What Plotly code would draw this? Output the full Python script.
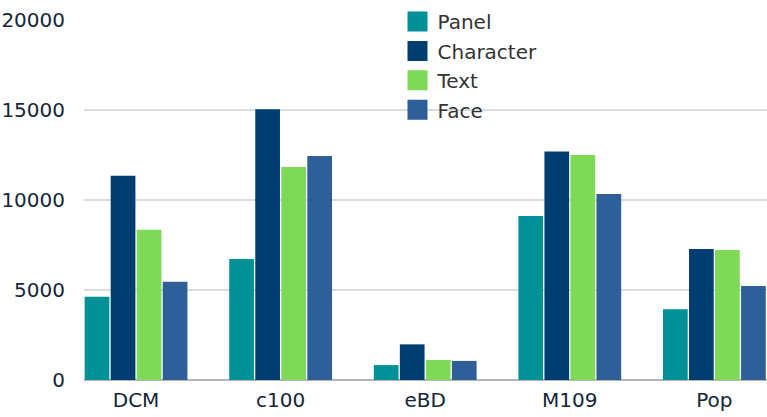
import plotly.graph_objects as go

categories = ["DCM", "c100", "eBD", "M109", "Pop"]
series_names = ["Panel", "Character", "Text", "Face"]
panel = [4630, 6720, 830, 9110, 3930]
character = [11350, 15040, 1980, 12690, 7280]
text = [8350, 11830, 1110, 12500, 7220]
face = [5460, 12440, 1060, 10330, 5220]
y_ticks = [0, 5000, 10000, 15000, 20000]

colors = ["#009196", "#003e72", "#7ed957", "#2e5f99"]
values = [panel, character, text, face]

FONT = "DejaVu Sans"
SIZE = 20
fig = go.Figure()
for name, vals, col in zip(series_names, values, colors):
    fig.add_trace(go.Bar(x=categories, y=vals, name=name, marker=dict(color=col, line=dict(width=0)),
                         showlegend=False))
for i, (name, col) in enumerate(zip(series_names, colors)):
    fig.add_trace(go.Scatter(x=[None], y=[None], mode="markers", name=name, legendgroup=str(i),
                             marker=dict(symbol="square", size=16, color=col, line=dict(color=col, width=4))))

fig.update_layout(
    width=767, height=417,
    margin=dict(l=84, r=0, t=20, b=37),
    paper_bgcolor="white", plot_bgcolor="white",
    barmode="group", bargap=0.28, bargroupgap=0.05,
    font=dict(family=FONT, size=SIZE, color="#14263a"),
    legend=dict(x=0.459, xanchor="left", y=1.05, yanchor="top", tracegroupgap=0.4,
                font=dict(family=FONT, size=SIZE, color="#333333"), bgcolor="rgba(0,0,0,0)"),
    xaxis=dict(range=[-0.36, 4.364], showgrid=False, showline=False, zeroline=False,
               ticks="", ticklabelstandoff=6, tickfont=dict(size=SIZE, color="#14263a")),
    yaxis=dict(range=[0, 20000], tickvals=y_ticks, ticktext=[str(v) for v in y_ticks],
               showgrid=True, gridcolor="#d8dde2", gridwidth=1.5, zeroline=True,
               zerolinecolor="#b3b7bc", zerolinewidth=2, showline=False, ticks="",
               ticklabelstandoff=18, tickfont=dict(size=SIZE, color="#14263a")),
)
fig.write_html("out.html", config={"displayModeBar": False},
               post_script=["document.body.style.margin='0';"])
